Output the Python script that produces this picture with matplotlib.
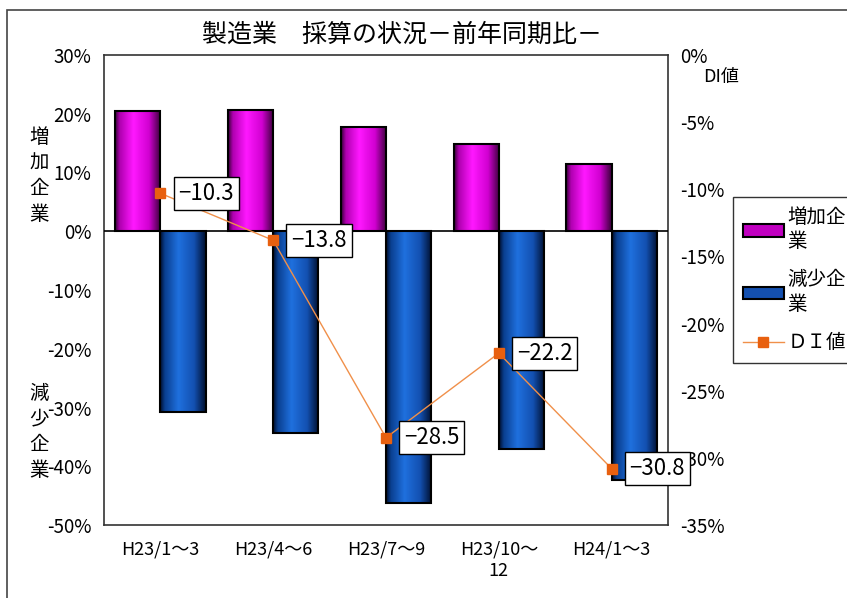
import matplotlib
matplotlib.use("Agg")
import matplotlib.pyplot as plt
import numpy as np
from matplotlib.colors import LinearSegmentedColormap
from matplotlib.patches import Rectangle, Patch
from matplotlib.lines import Line2D

plt.rcParams['font.family'] = ['Noto Sans CJK JP', 'DejaVu Sans']

categories = ["H23/1～3", "H23/4～6", "H23/7～9", "H23/10～\n12", "H24/1～3"]
increase = [20.5, 20.6, 17.8, 14.9, 11.5]
decrease = [-30.8, -34.4, -46.3, -37.1, -42.3]
di_values = [-10.3, -13.8, -28.5, -22.2, -30.8]
left_ticks = [30, 20, 10, 0, -10, -20, -30, -40, -50]
right_ticks = [0, -5, -10, -15, -20, -25, -30, -35]

W, H = 847, 598
fig = plt.figure(figsize=(W / 100, H / 100), dpi=100)
ax = fig.add_axes([104 / W, 1 - 525 / H, (668 - 104) / W, (525 - 55) / H])

x = np.arange(len(categories))
bw = 0.4

cm_inc = LinearSegmentedColormap.from_list(
    "inc", [(0, "#3a003a"), (0.1, "#b000b0"), (0.4, "#ff18ff"), (0.75, "#d000d0"), (1, "#3a003a")])
cm_dec = LinearSegmentedColormap.from_list(
    "dec", [(0, "#001030"), (0.1, "#0a3f90"), (0.4, "#1f70de"), (0.75, "#1350b0"), (1, "#001030")])
grad = np.linspace(0, 1, 64).reshape(1, -1)

bars_inc = ax.bar(x - bw / 2, increase, bw, facecolor="none", edgecolor="black", lw=1.5, zorder=3)
bars_dec = ax.bar(x + bw / 2, decrease, bw, facecolor="none", edgecolor="black", lw=1.5, zorder=3)
for bars, cmap in ((bars_inc, cm_inc), (bars_dec, cm_dec)):
    for b in bars:
        x0, y0 = b.get_x(), b.get_y()
        ax.imshow(grad, cmap=cmap, aspect="auto", zorder=2,
                  extent=(x0, x0 + b.get_width(), y0, y0 + b.get_height()))

ax.axhline(0, color="black", lw=1.2, zorder=4)
ax.set_xlim(-0.5, len(categories) - 0.5)
ax.set_ylim(-50, 30)
ax.set_yticks(left_ticks)
ax.set_yticklabels([f"{v}%" for v in left_ticks], fontsize=13.5)
ax.set_xticks(x)
ax.set_xticklabels(categories, fontsize=13, linespacing=1.25)
ax.tick_params(axis="both", length=0, pad=9)
ax.tick_params(axis="x", pad=11)
for s in ax.spines.values():
    s.set_color("#333333")
    s.set_linewidth(1.2)

ax2 = ax.twinx()
ax2.set_ylim(-35, 0)
ax2.set_yticks(right_ticks)
ax2.set_yticklabels([f"{v}%" for v in right_ticks], fontsize=13.5)
ax2.tick_params(axis="y", length=0, pad=9)
for s in ax2.spines.values():
    s.set_visible(False)
line_color = "#f0904a"
ax2.plot(x, di_values, color=line_color, lw=1.0, marker="s", ms=7,
         markerfacecolor="#e8600f", markeredgecolor="#e8600f", zorder=5)
for xi, v in zip(x, di_values):
    ax2.annotate(f"−{abs(v):.1f}", (xi, v), xytext=(18, 0), textcoords="offset pixels",
                 ha="left", va="center", fontsize=16, zorder=6,
                 bbox=dict(boxstyle="square,pad=0.22", fc="white", ec="black", lw=1.0))

fig.text(402 / W, 1 - 35 / H, "製造業　採算の状況－前年同期比－", ha="center", va="center", fontsize=18)
fig.text(721 / W, 1 - 77 / H, "DI値", ha="center", va="center", fontsize=13)
fig.text(39 / W, 1 - 176 / H, "増\n加\n企\n業", ha="center", va="center", fontsize=14, linespacing=1.3)
fig.text(39 / W, 1 - 432 / H, "減\n少\n企\n業", ha="center", va="center", fontsize=14, linespacing=1.3)

fig.patches.append(Rectangle((7 / W, -0.05), 1.1, 1 - 10 / H + 0.05, transform=fig.transFigure,
                             fill=False, edgecolor="#444444", lw=1.2))

handles = [Patch(facecolor="#c000c0", edgecolor="black", lw=1.5),
           Patch(facecolor="#1450b0", edgecolor="black", lw=1.5),
           Line2D([], [], color=line_color, lw=1.0, marker="s", ms=7,
                  markerfacecolor="#e8600f", markeredgecolor="#e8600f")]
labels = ["増加企\n業", "減少企\n業", "ＤＩ値"]
leg = fig.legend(handles, labels, loc="upper left", bbox_to_anchor=(733 / W, 1 - 197 / H),
                 bbox_transform=fig.transFigure, fontsize=14, frameon=True, fancybox=False,
                 borderaxespad=0, handlelength=2.1, handleheight=0.6, handletextpad=0.2,
                 labelspacing=0.9, borderpad=0.5)
leg.get_frame().set_edgecolor("black")
leg.get_frame().set_linewidth(1.0)

fig.savefig("out.png", dpi=100)
